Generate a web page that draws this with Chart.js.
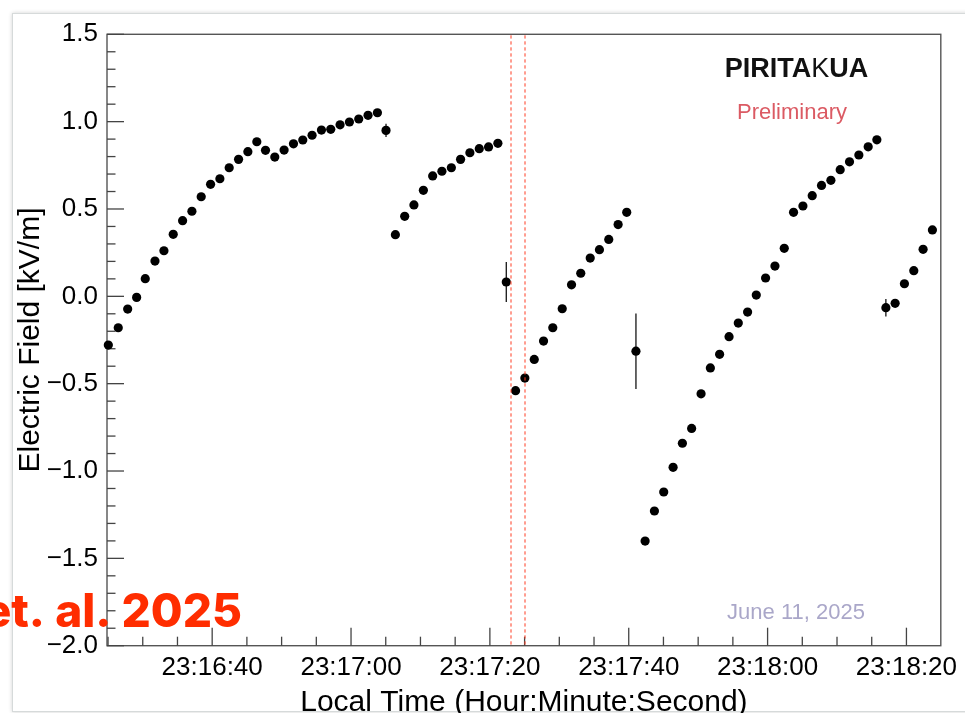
<!DOCTYPE html>
<html>
<head>
<meta charset="utf-8">
<title>Electric Field</title>
<script src="https://cdn.jsdelivr.net/npm/chart.js@4.4.1/dist/chart.umd.min.js"></script>
<style>
  html, body { margin: 0; padding: 0; width: 965px; height: 713px; overflow: hidden; background: #fff; }
  #card { position: absolute; left: 12px; top: 13px; width: 1000px; height: 697px;
          border: 1px solid #d6dada; box-shadow: 0 0 4px rgba(0,0,0,0.18); background: #fff; }
  #wrap { position: absolute; left: 0; top: 0; width: 965px; height: 730px; }
</style>
</head>
<body>
<div id="card"></div>
<div id="wrap"><canvas id="c" width="965" height="730"></canvas></div>
<script>
// Sample times, in seconds after 23:16:00 local time
const timeSec = [
  25.04, 26.47, 27.83, 29.12, 30.36, 31.76, 33.05, 34.39, 35.74, 37.08,
  38.42, 39.77, 41.11, 42.45, 43.80, 45.14, 46.43, 47.68, 49.02, 50.36,
  51.71, 53.05, 54.39, 55.74, 57.08, 58.42, 59.77, 61.11, 62.45, 63.80,
  65.04,
  66.39, 67.73, 69.06, 70.42, 71.76, 73.09, 74.45, 75.78, 77.12, 78.47,
  79.81, 81.15, 82.36,
  83.70, 85.04, 86.39, 87.73, 89.06, 90.42, 91.76, 93.09, 94.45, 95.78,
  97.12, 98.47, 99.71, 101.04,
  102.36, 103.70, 105.04, 106.39, 107.73, 109.06, 110.42, 111.76, 113.09, 114.45,
  115.78, 117.12, 118.37, 119.71, 121.06, 122.40, 123.74, 125.09, 126.43, 127.77,
  129.12, 130.46, 131.80, 133.15, 134.49, 135.74,
  137.04, 138.37, 139.71, 141.06, 142.40, 143.74
];

// Electric field, kV/m
const fieldKVm = [
  -0.279, -0.180, -0.073, -0.006, 0.101, 0.202, 0.261, 0.355, 0.433, 0.487,
  0.570, 0.641, 0.673, 0.736, 0.784, 0.828, 0.885, 0.836, 0.797, 0.837,
  0.873, 0.895, 0.922, 0.952, 0.956, 0.982, 0.998, 1.015, 1.036, 1.051,
  0.950,
  0.353, 0.458, 0.523, 0.607, 0.689, 0.716, 0.736, 0.784, 0.822, 0.845,
  0.855, 0.876, 0.082,
  -0.540, -0.468, -0.361, -0.256, -0.180, -0.071, 0.066, 0.132, 0.219, 0.267,
  0.326, 0.411, 0.481, -0.314,
  -1.401, -1.229, -1.120, -0.979, -0.841, -0.756, -0.558, -0.410, -0.332, -0.231,
  -0.153, -0.090, 0.007, 0.105, 0.173, 0.275, 0.481, 0.517, 0.576, 0.635,
  0.664, 0.725, 0.770, 0.809, 0.856, 0.896,
  -0.065, -0.040, 0.072, 0.147, 0.269, 0.380
];

// Half-width of the error bar for each sample, kV/m
const fieldErr = [
  0, 0, 0, 0, 0, 0, 0, 0, 0, 0,
  0, 0, 0, 0, 0, 0, 0, 0, 0, 0,
  0, 0, 0, 0, 0, 0, 0, 0, 0, 0,
  0.038,
  0, 0, 0, 0, 0, 0, 0, 0, 0, 0,
  0, 0, 0.115,
  0, 0, 0, 0, 0, 0, 0, 0, 0, 0,
  0, 0, 0, 0.216,
  0, 0, 0, 0, 0, 0, 0, 0, 0, 0,
  0, 0, 0, 0, 0, 0, 0, 0, 0, 0,
  0, 0, 0, 0, 0, 0,
  0.050, 0, 0, 0, 0, 0
];

// Times of the two marked events (dashed red lines)
const eventTimes = [82.98, 85.04];

// Axis ticks
const xTickValues = [40, 60, 80, 100, 120, 140];
const xTickLabels = ['23:16:40', '23:17:00', '23:17:20', '23:17:40', '23:18:00', '23:18:20'];
const xMinorStep = 5;
const yTickValues = [-2.0, -1.5, -1.0, -0.5, 0.0, 0.5, 1.0, 1.5];
const yTickLabels = ['\u22122.0', '\u22121.5', '\u22121.0', '\u22120.5', '0.0', '0.5', '1.0', '1.5'];
const yMinorStep = 0.1;

const X_MIN = 24.85, X_MAX = 144.95;
const Y_MIN = -2.0, Y_MAX = 1.5;

const FONT = '"Liberation Sans", Arial, Helvetica, sans-serif';

// Frame, inward tick marks and error bars
const framePlugin = {
  id: 'frame',
  beforeDatasetsDraw(chart) {
    const { ctx, chartArea: a, scales: { x, y } } = chart;
    ctx.save();

    // frame
    ctx.strokeStyle = '#555';
    ctx.lineWidth = 1.4;
    ctx.strokeRect(a.left, a.top, a.right - a.left, a.bottom - a.top);

    // x ticks (pointing up into the plot)
    ctx.strokeStyle = '#444';
    ctx.lineWidth = 1.3;
    for (let t = Math.ceil(X_MIN / xMinorStep) * xMinorStep; t <= X_MAX; t += xMinorStep) {
      const major = xTickValues.includes(t);
      const px = x.getPixelForValue(t);
      ctx.beginPath();
      ctx.moveTo(px, a.bottom);
      ctx.lineTo(px, a.bottom - (major ? 18 : 9));
      ctx.stroke();
    }
    // y ticks (pointing right into the plot)
    const nMinor = Math.round((Y_MAX - Y_MIN) / yMinorStep);
    for (let k = 0; k <= nMinor; k++) {
      const v = Y_MIN + k * yMinorStep;
      const major = k % 5 === 0;
      const py = y.getPixelForValue(v);
      ctx.beginPath();
      ctx.moveTo(a.left, py);
      ctx.lineTo(a.left + (major ? 17 : 8.5), py);
      ctx.stroke();
    }

    // error bars
    ctx.strokeStyle = '#000';
    ctx.lineWidth = 1.2;
    fieldErr.forEach((e, i) => {
      if (!e) return;
      const px = x.getPixelForValue(timeSec[i]);
      ctx.beginPath();
      ctx.moveTo(px, y.getPixelForValue(fieldKVm[i] - e));
      ctx.lineTo(px, y.getPixelForValue(fieldKVm[i] + e));
      ctx.stroke();
    });
    ctx.restore();
  },
  afterDatasetsDraw(chart) {
    const { ctx, chartArea: a, scales: { x } } = chart;
    ctx.save();
    // event lines, drawn over the markers
    ctx.strokeStyle = 'rgb(255, 60, 35)';
    ctx.lineWidth = 1;
    ctx.setLineDash([3.3, 2.7]);
    eventTimes.forEach(t => {
      const px = Math.round(x.getPixelForValue(t));
      ctx.beginPath();
      ctx.moveTo(px, a.top + 1);
      ctx.lineTo(px, a.bottom);
      ctx.stroke();
    });
    ctx.restore();
  },
  afterDraw(chart) {
    const { ctx } = chart;
    ctx.save();

    // experiment logo
    const parts = [
      { t: 'PIRITA', w: 'bold' },
      { t: 'K', w: '300' },
      { t: 'UA', w: 'bold' }
    ];
    const size = 27;
    let total = 0;
    parts.forEach(p => { ctx.font = p.w + ' ' + size + 'px ' + FONT; p.width = ctx.measureText(p.t).width; total += p.width; });
    let lx = 796.5 - total / 2;
    ctx.fillStyle = '#111';
    ctx.textBaseline = 'alphabetic';
    ctx.textAlign = 'left';
    parts.forEach(p => { ctx.font = p.w + ' ' + size + 'px ' + FONT; ctx.fillText(p.t, lx, 76.5); lx += p.width; });

    ctx.textAlign = 'center';
    ctx.font = '22px ' + FONT;
    ctx.fillStyle = '#db5a63';
    ctx.fillText('Preliminary', 792, 119);

    ctx.fillStyle = '#aaa7c9';
    ctx.fillText('June 11, 2025', 796, 619);

    // citation overlay
    ctx.textAlign = 'right';
    ctx.font = '800 46px Inter, "Noto Sans", sans-serif';
    ctx.fillStyle = '#ff2d00';
    ctx.fillText('et. al. 2025', 242, 626.5);
    ctx.restore();
  }
};

new Chart(document.getElementById('c'), {
  type: 'scatter',
  data: {
    datasets: [{
      data: timeSec.map((t, i) => ({ x: t, y: fieldKVm[i] })),
      backgroundColor: '#000',
      borderWidth: 0,
      pointRadius: 4.6,
      pointHoverRadius: 4.6,
      showLine: false,
      clip: false
    }]
  },
  options: {
    responsive: false,
    animation: false,
    events: [],
    layout: { padding: { left: 0, top: 34.3, right: 23.3, bottom: 0 } },
    plugins: { legend: { display: false }, tooltip: { enabled: false } },
    scales: {
      x: {
        type: 'linear',
        min: X_MIN,
        max: X_MAX,
        grid: { display: false, drawTicks: false },
        border: { display: false },
        afterFit: s => { s.height = 84.3; },
        afterBuildTicks: s => { s.ticks = xTickValues.map(v => ({ value: v })); },
        ticks: {
          autoSkip: false,
          maxRotation: 0,
          padding: 7,
          color: '#000',
          font: { family: FONT, size: 26 },
          callback: v => xTickLabels[xTickValues.indexOf(v)]
        },
        title: {
          display: true,
          text: 'Local Time (Hour:Minute:Second)',
          color: '#000',
          font: { family: FONT, size: 30 },
          padding: { top: 0, bottom: 9.5 }
        }
      },
      y: {
        type: 'linear',
        min: Y_MIN,
        max: Y_MAX,
        grid: { display: false, drawTicks: false },
        border: { display: false },
        afterFit: s => { s.width = 107; },
        afterBuildTicks: s => { s.ticks = yTickValues.map(v => ({ value: v })); },
        ticks: {
          autoSkip: false,
          padding: 9,
          color: '#000',
          font: { family: FONT, size: 26 },
          callback: v => yTickLabels[yTickValues.indexOf(v)]
        },
        title: {
          display: true,
          text: 'Electric Field [kV/m]',
          color: '#000',
          font: { family: FONT, size: 30 },
          padding: { top: 13, bottom: 0 }
        }
      }
    }
  },
  plugins: [framePlugin]
});
</script>
</body>
</html>
